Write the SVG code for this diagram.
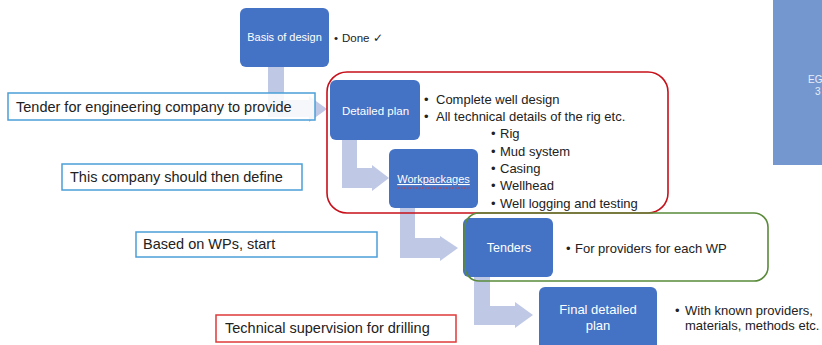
<svg xmlns="http://www.w3.org/2000/svg" width="822" height="345" viewBox="0 0 822 345">
<style>
.node{fill:#4472C4;}
.nl{font-family:"Liberation Sans",Arial,sans-serif;fill:#fff;text-anchor:middle;}
.arr{fill:#B8C2E2;opacity:0.9;}
.bt{font-family:"Liberation Sans",Arial,sans-serif;font-size:13px;fill:#222;}
.tb{fill:#fff;fill-opacity:0.85;stroke:#4A9FD8;stroke-width:1.5;}
.tt{font-family:"Liberation Sans",Arial,sans-serif;font-size:14.5px;fill:#222;}
</style>
<rect x="0" y="0" width="822" height="345" fill="#fff"/>
<g id="side-panel">
<rect x="773" y="0" width="49" height="165" fill="#7597CF"/>
<text x="808" y="83" font-family="Liberation Sans,Arial,sans-serif" font-size="10" fill="#e8eefa">EG</text>
<text x="815" y="95" font-family="Liberation Sans,Arial,sans-serif" font-size="10" fill="#e8eefa">3</text>
</g>
<g id="connectors">
<polygon class="arr" points="268,67 284,67 284,100 309,100 309,96 327,109 309,122 309,117 268,117"/>
<polygon class="arr" points="342,140 357,140 357,168 372,168 372,165 389,178 372,191 372,188 342,188"/>
<polygon class="arr" points="400,208 415,208 415,238 440,238 440,236 458,248 440,261 440,258 400,258"/>
<polygon class="arr" points="474,277 490,277 490,306 515,306 515,302 533,315 515,328 515,325 474,325"/>
</g>
<g id="label-tender-engineering">
<rect class="tb" x="8" y="93" width="307" height="27"/>
<text class="tt" x="16" y="112">Tender for engineering company to provide</text>
</g>
<g id="label-company-define">
<rect class="tb" x="62" y="164" width="240" height="26"/>
<text class="tt" x="70" y="182">This company should then define</text>
</g>
<g id="label-based-on-wps">
<rect class="tb" x="136" y="232" width="241" height="25"/>
<text class="tt" x="143" y="249">Based on WPs, start</text>
</g>
<g id="label-supervision">
<rect x="216" y="315" width="240" height="27" fill="#fff" stroke="#E03A3A" stroke-width="1.5"/>
<text class="tt" x="225" y="333">Technical supervision for drilling</text>
</g>
<g id="group-detailed">
<rect x="327" y="72" width="341" height="141" rx="20" fill="none" stroke="#C8101A" stroke-width="1.6"/>
</g>
<g id="node-basis">
<rect class="node" x="240" y="8" width="89" height="59" rx="6"/>
<text class="nl" x="284.5" y="41" font-size="11">Basis of design</text>
<text class="bt" x="334" y="42" style="font-size:11.5px">•</text>
<text class="bt" x="342" y="42" style="font-size:11.5px">Done</text>
<text x="373" y="42" font-family="DejaVu Sans,sans-serif" font-size="12" font-weight="bold" fill="#222">✓</text>
</g>
<g id="node-detailed">
<rect class="node" x="330" y="80" width="90" height="60" rx="6"/>
<text class="nl" x="375.5" y="115" font-size="11.5">Detailed plan</text>
<text class="bt"><tspan x="424" y="103.5">•</tspan><tspan x="436" y="103.5">Complete well design</tspan></text>
<text class="bt"><tspan x="424" y="120.5">•</tspan><tspan x="436" y="120.5">All technical details of the rig etc.</tspan></text>
</g>
<g id="node-workpackages">
<rect class="node" x="389" y="149" width="89" height="59" rx="6"/>
<text class="nl" x="433.5" y="183" font-size="11" text-decoration="underline">Workpackages</text>
<line x1="398" y1="188" x2="470" y2="188" stroke="#D03A3A" stroke-width="1" stroke-dasharray="1.5,1.5"/>
<text class="bt"><tspan x="491" y="137.5">•</tspan><tspan x="500" y="137.5">Rig</tspan></text>
<text class="bt"><tspan x="491" y="155.5">•</tspan><tspan x="500" y="155.5">Mud system</tspan></text>
<text class="bt"><tspan x="491" y="172.5">•</tspan><tspan x="500" y="172.5">Casing</tspan></text>
<text class="bt"><tspan x="491" y="189.5">•</tspan><tspan x="500" y="189.5">Wellhead</tspan></text>
<text class="bt"><tspan x="491" y="207.5">•</tspan><tspan x="500" y="207.5">Well logging and testing</tspan></text>
</g>
<g id="node-tenders">
<rect class="node" x="463" y="218" width="90" height="59" rx="6"/>
<rect x="465" y="213" width="303" height="68" rx="14" fill="none" stroke="#5A8A3A" stroke-width="1.6"/>
<text class="nl" x="509" y="252" font-size="12.5">Tenders</text>
<text class="bt"><tspan x="566" y="253">•</tspan><tspan x="575" y="253">For providers for each WP</tspan></text>
</g>
<g id="node-final">
<rect class="node" x="539" y="287" width="118" height="66" rx="6"/>
<text class="nl" x="598" y="313.5" font-size="13">Final detailed</text>
<text class="nl" x="598" y="329.5" font-size="13">plan</text>
<text class="bt"><tspan x="675" y="315">•</tspan><tspan x="685" y="315">With known providers,</tspan></text>
<text class="bt" x="685" y="330">materials, methods etc.</text>
</g>
</svg>
